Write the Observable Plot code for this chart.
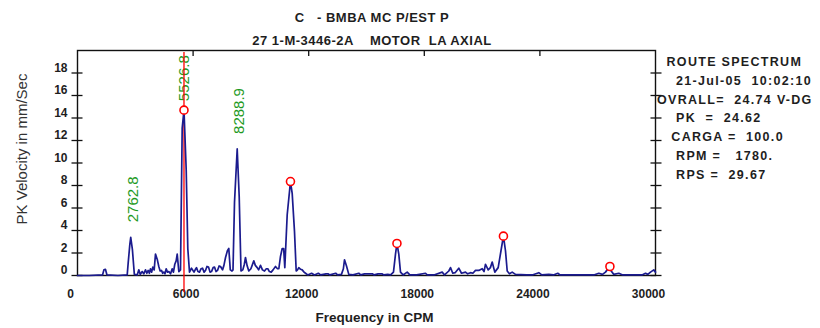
<!DOCTYPE html>
<html><head><meta charset="utf-8">
<script src="https://cdn.jsdelivr.net/npm/d3@7"></script>
<script src="https://cdn.jsdelivr.net/npm/@observablehq/plot@0.6"></script>
<style>
body{margin:0;background:#fff;}
#wrap{position:relative;width:820px;height:328px;font-family:"Liberation Sans",Arial,sans-serif;font-weight:bold;color:#1e1e1e;}
#chart{position:absolute;left:0;top:0;}
#title{position:absolute;left:0;top:6px;width:744px;text-align:center;font-size:13px;line-height:23px;white-space:pre;letter-spacing:0.5px;}
#info{position:absolute;left:657px;top:53px;font-size:12.5px;line-height:18.8px;white-space:pre;letter-spacing:1.3px;}
</style></head><body>
<div id="wrap"><div id="chart"></div><div id="title"></div><div id="info"></div></div>
<script>
const titleLines = ["C   - BMBA MC P/EST P", "27 1-M-3446-2A    MOTOR  LA AXIAL"];
const infoLines = ["  ROUTE SPECTRUM", "    21-Jul-05  10:02:10", "OVRALL=  24.74 V-DG", "    PK  =  24.62", "   CARGA =  100.0", "    RPM =   1780.", "    RPS =  29.67"];
const xLabel = "Frequency in CPM";
const yLabel = "PK Velocity in mm/Sec";
const xTicks = [0, 6000, 12000, 18000, 24000, 30000];
const yTicks = [0, 2, 4, 6, 8, 10, 12, 14, 16, 18];
const cursorFreq = 5526.8;
const peakLabelFreqs = [2762.8, 8288.9];
const peakLabelAmps = [3.4, 11.25];
const harmonicFreqs = [5526.8, 11053.6, 16580.4, 22107.2, 27634.0];
const harmonicAmps = [14.7, 8.35, 2.85, 3.5, 0.8];
const freq = [0,600,1300,1370,1450,1530,2100,2580,2630,2715,2763,2850,2950,3100,3182,3260,3358,3440,3529,3600,3669,3730,3789,3850,3908,3980,4048,4137,4220,4290,4360,4420,4479,4540,4604,4670,4739,4830,4915,4980,5050,5120,5175,5260,5346,5434,5527,5642,5725,5813,5917,6047,6120,6176,6250,6332,6410,6488,6570,6644,6720,6800,6880,6955,7040,7111,7190,7267,7350,7423,7527,7600,7683,7780,7853,7930,8020,8071,8149,8289,8393,8486,8580,8660,8719,8800,8891,9000,9150,9230,9327,9400,9498,9600,9706,9800,9878,9960,10053,10150,10277,10380,10450,10536,10625,10700,10760,10884,11054,11143,11263,11351,11420,11486,11580,11662,11760,11834,11950,12150,12300,12500,12620,12900,13000,13100,13400,13500,13700,13800,13858,13962,14081,14300,14600,14700,14900,15300,15400,15600,15800,15900,16100,16250,16400,16505,16580,16676,16765,16900,17112,17250,17600,18062,18150,18500,18929,19050,19271,19360,19479,19600,19790,19931,20138,20250,20398,20520,20657,20828,21005,21100,21176,21316,21430,21524,21659,21835,21980,22107,22214,22303,22420,22562,22733,23300,23600,23943,24100,24462,24700,24928,25050,26800,27056,27250,27404,27576,27634,27700,27835,28095,28300,29300,29481,29600,29740,29911,30000];
const amp = [0,0,0.05,0.5,0.55,0.05,0,0.05,1.1,2.75,3.4,2.3,0.1,0.05,0.5,0.1,0.35,0.15,0.5,0.2,0.45,0.2,0.6,0.3,0.75,0.5,1.9,1.45,0.8,0.4,0.45,0.2,0.3,0.15,0.6,0.3,0.35,0.15,0.6,0.3,1.0,1.3,1.9,0.35,0.5,13.1,14.7,9.4,2.4,0.3,0.65,0.3,0.55,0.7,0.35,0.3,0.6,0.65,0.3,0.45,0.8,0.75,0.3,0.35,0.7,0.75,0.35,0.45,0.85,0.8,0.5,0.9,1.6,2.2,2.4,0.5,0.4,0.5,6.5,11.25,7.0,0.4,0.5,1.0,1.6,0.9,0.4,0.6,1.3,0.9,0.7,0.5,0.9,0.5,0.4,0.6,0.6,0.35,0.3,0.5,0.8,0.6,0.6,1.7,2.4,2.4,0.7,5.4,8.35,7.3,3.9,0.4,0.5,0.7,0.55,0.5,0.3,0.2,0.05,0.2,0.05,0.2,0.05,0.15,0.15,0.05,0.2,0.05,0.1,0.6,1.4,0.85,0.1,0.05,0.2,0.05,0.15,0.15,0.05,0.15,0.15,0.05,0.1,0.05,0.3,1.9,2.85,1.9,0.3,0.05,0.3,0.05,0.05,0.2,0.05,0.05,0.3,0.05,0.4,0.7,0.2,0.25,0.65,0.2,0.3,0.15,0.25,0.2,0.45,0.45,0.6,0.35,1.0,0.5,0.7,1.2,0.3,0.7,2.2,3.5,2.2,0.4,0.15,0.3,0.1,0.05,0.05,0.25,0.05,0.1,0.05,0.2,0.05,0.05,0.2,0.1,0.3,0.7,0.8,0.4,0.1,0.2,0.05,0.05,0.2,0.1,0.3,0.5,0.3];

const spectrum = freq.map((f, i) => ({f, a: amp[i]}));
const harmonics = harmonicFreqs.map((f, i) => ({f, a: harmonicAmps[i]}));
const peakLabels = peakLabelFreqs.map((f, i) => ({f, a: peakLabelAmps[i], t: f.toFixed(1)}));
const cursorLabel = [{f: cursorFreq, a: harmonicAmps[0], t: cursorFreq.toFixed(1)}];

const FONT = '"Liberation Sans",Arial,sans-serif';
const GREEN = "#1f9a1f";

const chart = Plot.plot({
  width: 820, height: 328,
  marginLeft: 77, marginRight: 165, marginTop: 50, marginBottom: 53,
  x: {domain: [0, 30000]},
  y: {domain: [0, 20]},
  style: {fontFamily: FONT, fontWeight: "bold", fontSize: "12px", color: "#1e1e1e", background: "transparent"},
  marks: [
    Plot.axisY(yTicks, {anchor: "left", tickSize: 11, dx: 5.5, fill: "none", label: null, strokeWidth: 1.3, stroke: "#111"}),
    Plot.axisY(yTicks, {anchor: "left", tickSize: 0, tickPadding: 10, dy: -5, label: null}),
    Plot.axisY(yTicks, {anchor: "right", tickSize: 11, dx: -5.5, fill: "none", label: null, strokeWidth: 1.3, stroke: "#111"}),
    Plot.axisX(xTicks.slice(1, -1), {anchor: "top", tickSize: 5, dy: 5, fill: "none", label: null, strokeWidth: 1.3, stroke: "#111"}),
    Plot.axisX(xTicks, {anchor: "bottom", tickSize: 0, tickPadding: 14, dx: -7, label: null, tickFormat: d => String(d)}),
    Plot.frame({stroke: "#111", strokeWidth: 1.4}),
    Plot.text([xLabel], {frameAnchor: "bottom", dx: 8, dy: 46, fontSize: 13.5}),
    Plot.text([yLabel], {frameAnchor: "left", textAnchor: "middle", dx: -55, dy: -14, rotate: -90, fontSize: 15, fontWeight: "normal", fill: "#333", letterSpacing: 0.3}),
    Plot.text(peakLabels, {x: "f", y: "a", text: "t", rotate: -90, textAnchor: "start", dx: 2, dy: -15, fill: GREEN, fontSize: 15, fontWeight: "normal", letterSpacing: 1}),
    Plot.text(cursorLabel, {x: "f", y: "a", text: "t", rotate: -90, textAnchor: "start", dy: -9, fill: GREEN, fontSize: 15, fontWeight: "normal", letterSpacing: 0.5, stroke: "white", strokeWidth: 5, paintOrder: "stroke"}),
    Plot.ruleX([cursorFreq], {stroke: "red", strokeWidth: 1.3, insetBottom: -17, insetTop: 2}),
    Plot.line(spectrum, {x: "f", y: "a", stroke: "#1b1b8e", strokeWidth: 1.7}),
    Plot.dot(harmonics, {x: "f", y: "a", r: 4, stroke: "red", fill: "white", strokeWidth: 1.6})
  ]
});
document.getElementById("chart").append(chart);
document.getElementById("title").textContent = titleLines.join("\n");
document.getElementById("info").textContent = infoLines.join("\n");
</script>
</body></html>
